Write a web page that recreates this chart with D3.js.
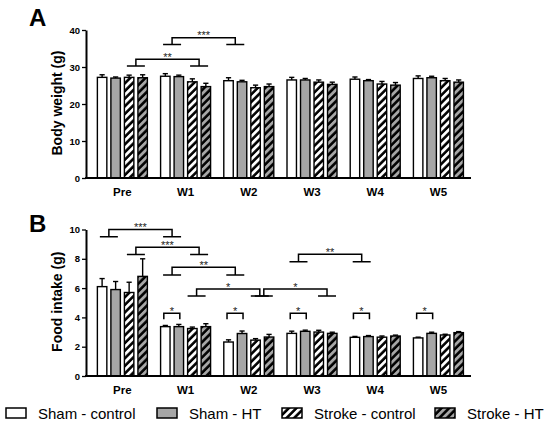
<!DOCTYPE html>
<html><head><meta charset="utf-8">
<script src="https://cdn.jsdelivr.net/npm/d3@7"></script>
<style>
html,body{margin:0;padding:0;background:#fff;}
svg text{font-family:"Liberation Sans",Arial,sans-serif;}
</style></head>
<body>
<svg id="chart" width="550" height="428"></svg>
<script>
// ---------- data ----------
const groups = ["Pre","W1","W2","W3","W4","W5"];
const seriesNames = ["Sham - control","Sham - HT","Stroke - control","Stroke - HT"];

// Panel A: body weight (g), per group: [sham-control, sham-HT, stroke-control, stroke-HT]
const weightMean = [
  [27.2,27.0,27.2,27.1],
  [27.5,27.4,26.0,24.7],
  [26.3,26.0,24.4,24.7],
  [26.5,26.5,25.9,25.3],
  [26.7,26.3,25.4,25.1],
  [26.9,27.1,26.3,25.9]
];
const weightErr = [
  [0.7,0.3,0.6,0.8],
  [0.7,0.4,0.8,0.9],
  [0.8,0.4,0.7,0.7],
  [0.7,0.4,0.6,0.6],
  [0.6,0.3,0.7,0.7],
  [0.7,0.4,0.6,0.6]
];
const weightTicks = [0,10,20,30,40];

// Panel B: food intake (g)
const foodMean = [
  [6.1,5.9,5.7,6.8],
  [3.37,3.37,3.24,3.37],
  [2.32,2.90,2.45,2.66],
  [2.91,3.05,3.00,2.91],
  [2.64,2.69,2.65,2.73],
  [2.60,2.91,2.80,2.96]
];
const foodErr = [
  [0.55,0.55,0.70,1.20],
  [0.08,0.15,0.10,0.20],
  [0.15,0.17,0.10,0.18],
  [0.15,0.08,0.12,0.08],
  [0.06,0.07,0.08,0.06],
  [0.05,0.08,0.05,0.07]
];
const foodTicks = [0,2,4,6,8,10];

// significance brackets: pair 0 = sham bars, pair 1 = stroke bars; heights in data units
const weightBrackets = [
  {g1:"Pre", p1:1, g2:"W1", p2:1, top:32.1, foot:30.3, label:"**"},
  {g1:"W1",  p1:0, g2:"W2", p2:0, top:37.9, foot:36.1, label:"***"}
];
const foodBrackets = [
  {g1:"Pre", p1:0, g2:"W1", p2:0, top:10.0, foot:9.5,  label:"***"},
  {g1:"Pre", p1:1, g2:"W1", p2:1, top:8.78, foot:8.3,  label:"***"},
  {g1:"W1",  p1:0, g2:"W2", p2:0, top:7.42, foot:6.9,  label:"**"},
  {g1:"W1",  p1:1, g2:"W2", p2:1, top:5.94, foot:5.46, label:"*"},
  {g1:"W2",  p1:1, g2:"W3", p2:1, top:5.94, foot:5.46, label:"*"},
  {g1:"W3",  p1:0, g2:"W4", p2:0, top:8.31, foot:7.8,  label:"**"}
];
const foodPairBrackets = [
  {g:"W1", top:4.28, end:3.87, label:"*"},
  {g:"W2", top:4.28, end:3.87, label:"*"},
  {g:"W3", top:4.28, end:3.87, label:"*"},
  {g:"W4", top:4.28, end:3.87, label:"*"},
  {g:"W5", top:4.28, end:3.87, label:"*"}
];

// ---------- drawing ----------
const svg = d3.select("#chart");
const defs = svg.append("defs");
function hatch(id, bg){
  const s = 5.4;
  const p = defs.append("pattern").attr("id", id)
    .attr("patternUnits","userSpaceOnUse").attr("width",s).attr("height",s)
    .attr("patternTransform","rotate(45)");
  p.append("rect").attr("width",s).attr("height",s).attr("fill",bg);
  p.append("line").attr("x1",1.4).attr("x2",1.4).attr("y1",0).attr("y2",s)
    .attr("stroke","#000").attr("stroke-width",2.6);
}
hatch("hatchW","#fff");
hatch("hatchG","#a6a6a6");
const fills = ["#ffffff","#a6a6a6","url(#hatchW)","url(#hatchG)"];

const x0 = d3.scaleBand().domain(groups).range([86,471])
  .paddingInner(0.209).paddingOuter(0.15).align(0.6);
const x1 = d3.scaleBand().domain(d3.range(4)).range([0,x0.bandwidth()])
  .paddingInner(0.3).paddingOuter(0);

const fontAxis = "bold 9.5px 'Liberation Sans',Arial,sans-serif";

function panel(opts){
  const {yRange, domain, ticks, means, errs, title, letter, letterY, brackets, pairs, nudges} = opts;
  const y = d3.scaleLinear().domain(domain).range(yRange);
  const g = svg.append("g");

  // bars
  groups.forEach((grp, gi) => {
    means[gi].forEach((v, si) => {
      const bx = x0(grp) + x1(si);
      const bw = x1.bandwidth();
      const cx = bx + bw/2;
      const top = y(v + errs[gi][si]);
      g.append("line").attr("x1",cx).attr("x2",cx).attr("y1",y(v)).attr("y2",top)
        .attr("stroke","#000").attr("stroke-width",1.4);
      g.append("line").attr("x1",cx-2.6).attr("x2",cx+2.6).attr("y1",top).attr("y2",top)
        .attr("stroke","#000").attr("stroke-width",1.4);
      g.append("rect").attr("x",bx).attr("y",y(v)).attr("width",bw).attr("height",y(0)-y(v))
        .attr("fill",fills[si]).attr("stroke","#000").attr("stroke-width",1.4);
    });
  });

  // axes
  const ya = g.append("g").attr("transform","translate(86,0)")
    .call(d3.axisLeft(y).tickValues(ticks).tickSize(4).tickSizeOuter(0).tickPadding(2));
  ya.select(".domain").attr("stroke-width",2);
  ya.selectAll(".tick line").attr("stroke-width",1.3);
  ya.selectAll("text").style("font",fontAxis).attr("fill","#000");

  const xa = g.append("g").attr("transform",`translate(0,${y(0)})`)
    .call(d3.axisBottom(x0).tickSize(0).tickSizeOuter(0).tickPadding(10));
  xa.select(".domain").attr("stroke-width",2).attr("d",`M85,0H471`);
  xa.selectAll("text").style("font","bold 11.5px 'Liberation Sans',Arial,sans-serif").attr("fill","#000");

  // titles
  const yc = (yRange[0]+yRange[1])/2 - 1;
  g.append("text").attr("transform",`translate(62,${yc}) rotate(-90)`)
    .attr("text-anchor","middle").style("font","bold 14px 'Liberation Sans',Arial,sans-serif")
    .text(title);
  g.append("text").attr("x",29).attr("y",letterY)
    .style("font","bold 24px 'Liberation Sans',Arial,sans-serif").text(letter);

  // significance brackets
  const pairCenter = (grp, p) => x0(grp) + (x1(p*2) + x1(p*2+1) + x1.bandwidth())/2;
  brackets.forEach((b, i) => {
    const n = nudges ? nudges[i] : 0;
    const xl = pairCenter(b.g1, b.p1) + n, xr = pairCenter(b.g2, b.p2) + n;
    const yt = y(b.top), yf = y(b.foot);
    const path = `M${xl-9},${yf}H${xl+9}M${xl},${yf}V${yt}H${xr}V${yf}M${xr-9},${yf}H${xr+9}`;
    g.append("path").attr("d",path).attr("fill","none").attr("stroke","#000").attr("stroke-width",1.5);
    g.append("text").attr("x",(xl+xr)/2).attr("y",yt-4.7+6.4).attr("text-anchor","middle")
      .style("font","11px 'Liberation Sans',Arial,sans-serif").attr("fill","#222").text(b.label);
  });
  (pairs||[]).forEach(b => {
    const xl = x0(b.g) + x1(0) + x1.bandwidth()/2 - 1.5;
    const xr = x0(b.g) + x1(1) + x1.bandwidth()/2 + 1;
    const yt = y(b.top), ye = y(b.end);
    g.append("path").attr("d",`M${xl},${ye}V${yt}H${xr}V${ye}`).attr("fill","none")
      .attr("stroke","#000").attr("stroke-width",1.5);
    g.append("text").attr("x",(xl+xr)/2).attr("y",yt-4.3+6.4).attr("text-anchor","middle")
      .style("font","11px 'Liberation Sans',Arial,sans-serif").attr("fill","#222").text(b.label);
  });
}

panel({yRange:[178,30], domain:[0,40], ticks:weightTicks, means:weightMean, errs:weightErr,
  title:"Body weight (g)", letter:"A", letterY:26, brackets:weightBrackets});
panel({yRange:[376,229.5], domain:[0,10], ticks:foodTicks, means:foodMean, errs:foodErr,
  title:"Food intake (g)", letter:"B", letterY:232, brackets:foodBrackets, pairs:foodPairBrackets,
  nudges:[0,0,0,-2.5,1.5,0]});

// legend
const legX = [6, 157, 282, 435];
const lg = svg.append("g");
seriesNames.forEach((name, i) => {
  lg.append("rect").attr("x",legX[i]).attr("y",408).attr("width",20).attr("height",10)
    .attr("fill",fills[i]).attr("stroke","#000").attr("stroke-width",1.5);
  lg.append("text").attr("x",legX[i]+32).attr("y",419)
    .style("font","15px 'Liberation Sans',Arial,sans-serif").text(name);
});
</script>
</body></html>
